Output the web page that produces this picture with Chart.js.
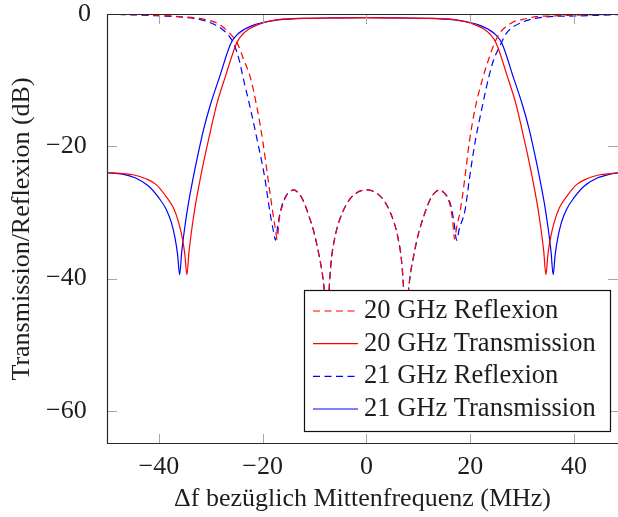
<!DOCTYPE html>
<html><head><meta charset="utf-8">
<script src="https://cdn.jsdelivr.net/npm/chart.js@4/dist/chart.umd.min.js"></script>
<style>html,body{margin:0;padding:0;background:#fff;} #c{display:block;}</style>
</head><body>
<canvas id="c" width="618" height="517"></canvas>
<script>
// ---- data ----
const seriesNames = ["20 GHz Reflexion", "20 GHz Transmission", "21 GHz Reflexion", "21 GHz Transmission"];
const xTicks = [-40, -20, 0, 20, 40];
const yTicks = [-60, -40, -20, 0];
const xTitle = "\u0394f bez\u00fcglich Mittenfrequenz (MHz)";
const yTitle = "Transmission/Reflexion (dB)";

// 20 GHz Reflexion
const r20_f  = [-50, -45, -40, -37.5, -35, -33, -31, -29, -27.8, -26.5, -24.9, -23.6, -22.4, -21.0, -19.9, -19.0, -18.1, -17.6, -17.2, -16.8, -16.1, -15.5, -14.8, -14.0, -13.2, -12.3, -11.0, -10.0, -9.0, -8.4, -8.0, -7.6, -7.2, -6.8, -6.0, -5.2, -4.0, -3.0, -2.0, -1.0, 0, 1.0, 2.0, 3.0, 4.0, 5.2, 6.0, 6.8, 7.2, 7.6, 8.0, 8.4, 9.0, 10.0, 11.0, 12.3, 13.2, 14.0, 14.8, 15.5, 16.1, 16.6, 17.0, 17.4, 18.1, 19.0, 19.8, 20.9, 22.5, 23.5, 24.7, 25.7, 28.3, 30, 32.8, 36, 39.2, 44, 48.5];
const r20_db = [-0.05, -0.1, -0.2, -0.3, -0.45, -0.6, -0.85, -1.3, -1.9, -2.8, -4.4, -7.0, -9.5, -14.5, -19.6, -24.7, -29.7, -32.2, -34.0, -31.0, -28.8, -27.6, -26.9, -26.6, -27.0, -28.0, -30.7, -33.3, -37.0, -39.8, -43.0, -50.0, -42.0, -37.5, -33.5, -31.2, -29.0, -27.8, -27.1, -26.7, -26.6, -26.7, -27.1, -27.8, -29.0, -31.2, -33.5, -37.5, -42.0, -50.0, -43.0, -39.8, -37.0, -33.3, -30.7, -28.0, -27.0, -26.6, -26.9, -27.6, -28.8, -31.0, -34.0, -32.2, -29.7, -24.7, -19.6, -14.5, -9.5, -7.0, -4.4, -2.9, -1.2, -0.85, -0.4, -0.3, -0.2, -0.1, -0.05];

// 20 GHz Transmission
const t20_f  = [-50, -47.5, -45, -42.5, -40.5, -38.6, -37.2, -36.2, -35.5, -35.0, -34.6, -34.2, -33.6, -32.9, -32.0, -31.0, -30.0, -28.9, -27.2, -25.0, -23.9, -22.5, -21.0, -19.5, -17, -12, -6, 0, 6, 12, 17, 19.5, 21.0, 22.5, 23.9, 25.0, 27.2, 28.9, 30.0, 31.0, 32.0, 32.9, 33.6, 34.2, 34.6, 35.0, 35.5, 36.2, 37.2, 38.6, 40.5, 42.5, 45, 47.5, 48.5];
const t20_db = [-24.0, -24.1, -24.3, -24.9, -25.8, -27.6, -29.3, -31.5, -33.8, -36.3, -39.4, -36.0, -32.2, -28.6, -24.8, -21.0, -17.5, -13.8, -9.5, -4.4, -3.1, -2.2, -1.65, -1.25, -0.85, -0.65, -0.6, -0.55, -0.6, -0.65, -0.85, -1.25, -1.65, -2.2, -3.1, -4.4, -9.5, -13.8, -17.5, -21.0, -24.8, -28.6, -32.2, -36.0, -39.4, -36.3, -33.8, -31.5, -29.3, -27.6, -25.8, -24.9, -24.3, -24.1, -24.0];

// 21 GHz Reflexion
const r21_f  = [-50, -45, -40.6, -36, -32.2, -29, -27.5, -26.4, -25.5, -24.5, -23.8, -22.3, -20.9, -19.6, -18.65, -18.0, -17.5, -17.0, -16.3, -15.5, -14.8, -14.0, -13.2, -12.3, -11.0, -10.0, -9.0, -8.4, -8.0, -7.6, -7.2, -6.8, -6.0, -5.2, -4.0, -3.0, -2.0, -1.0, 0, 1.0, 2.0, 3.0, 4.0, 5.2, 6.0, 6.8, 7.2, 7.6, 8.0, 8.4, 9.0, 10.0, 11.0, 12.3, 13.2, 14.0, 14.8, 15.5, 16.3, 16.9, 17.4, 17.9, 19.0, 19.9, 20.9, 22.2, 23.6, 24.5, 26.0, 27.0, 30.2, 35.4, 40, 44.4, 48.5];
const r21_db = [-0.05, -0.12, -0.25, -0.45, -0.8, -1.7, -2.5, -3.4, -4.6, -7.0, -9.5, -14.5, -19.6, -24.7, -29.7, -32.5, -34.2, -31.5, -29.0, -27.5, -26.9, -26.6, -27.0, -28.0, -30.7, -33.3, -37.0, -39.8, -43.0, -50.0, -42.0, -37.5, -33.5, -31.2, -29.0, -27.8, -27.1, -26.7, -26.6, -26.7, -27.1, -27.8, -29.0, -31.2, -33.5, -37.5, -42.0, -50.0, -43.0, -39.8, -37.0, -33.3, -30.7, -28.0, -27.0, -26.6, -26.9, -27.5, -29.0, -31.5, -34.2, -32.5, -29.7, -24.7, -19.6, -14.5, -9.5, -7.0, -4.4, -2.9, -1.2, -0.4, -0.3, -0.2, -0.1];

// 21 GHz Transmission
const t21_f  = [-50, -47, -44.5, -42, -40.0, -38.6, -37.6, -36.9, -36.4, -36.0, -35.6, -35.0, -34.3, -33.4, -32.4, -31.4, -30.1, -28.3, -26.1, -25.0, -23.5, -22.0, -20.6, -17, -12, -6, 0, 6, 12, 17, 20.6, 22.0, 23.5, 25.0, 26.1, 28.3, 30.1, 31.4, 32.4, 33.4, 34.3, 35.0, 35.6, 36.0, 36.4, 36.9, 37.6, 38.6, 40.0, 42, 44.5, 47, 48.5];
const t21_db = [-24.0, -24.2, -24.8, -26.0, -27.8, -29.5, -31.5, -33.8, -36.3, -39.4, -36.0, -32.2, -28.6, -24.8, -21.0, -17.5, -13.8, -9.5, -4.4, -3.2, -2.3, -1.75, -1.4, -0.9, -0.65, -0.6, -0.55, -0.6, -0.65, -0.9, -1.4, -1.75, -2.3, -3.2, -4.4, -9.5, -13.8, -17.5, -21.0, -24.8, -28.6, -32.2, -36.0, -39.4, -36.3, -33.8, -31.5, -29.5, -27.8, -26.0, -24.8, -24.2, -24.0];

// ---- chart ----
const FONT = "'Liberation Serif', 'Times New Roman', 'DejaVu Serif', serif";
const TXT = '#1e1e1e';
const RED = '#ff0000', BLUE = '#0000ff';
const DASH = [7, 4.5];
const pts = (xs, ys) => xs.map((x, i) => ({x: x, y: ys[i]}));
const fmt = v => (v < 0 ? '\u2212' + Math.abs(v) : String(v));

const datasets = [
  {label: seriesNames[0], data: pts(r20_f, r20_db), borderColor: RED, borderDash: DASH},
  {label: seriesNames[1], data: pts(t20_f, t20_db), borderColor: RED},
  {label: seriesNames[2], data: pts(r21_f, r21_db), borderColor: BLUE, borderDash: DASH},
  {label: seriesNames[3], data: pts(t21_f, t21_db), borderColor: BLUE}
];

const framePlugin = {
  id: 'frame',
  afterDatasetsDraw(chart) {
    const {ctx, chartArea: a, scales: {x, y}} = chart;
    ctx.save();
    const seg = (x1, y1, x2, y2) => { ctx.beginPath(); ctx.moveTo(x1, y1); ctx.lineTo(x2, y2); ctx.stroke(); };
    // inward tick marks on all four sides
    ctx.strokeStyle = '#a6a6a6'; ctx.lineWidth = 1;
    xTicks.forEach(v => {
      const px = Math.round(x.getPixelForValue(v)) + 0.5;
      seg(px, a.bottom, px, a.bottom - 10);
      seg(px, a.top, px, a.top + 10);
    });
    yTicks.forEach(v => {
      const py = Math.round(y.getPixelForValue(v)) + 0.5;
      seg(a.left, py, a.left + 10, py);
      seg(a.right, py, a.right - 10, py);
    });
    // frame
    ctx.strokeStyle = '#2a2a2a'; ctx.lineWidth = 1.2;
    ctx.beginPath();
    ctx.moveTo(a.right + 3, a.top + 0.5);
    ctx.lineTo(a.left + 0.5, a.top + 0.5);
    ctx.lineTo(a.left + 0.5, a.bottom - 0.5);
    ctx.lineTo(a.right + 3, a.bottom - 0.5);
    ctx.stroke();
    // legend box
    ctx.font = '26.5px ' + FONT;
    let maxW = 0;
    datasets.forEach(d => { maxW = Math.max(maxW, ctx.measureText(d.label).width); });
    const w = Math.round(60 + maxW + 14), h = 141;
    const bx = Math.round(a.right - 8 - w), by = Math.round(a.bottom - 13 - h);
    ctx.fillStyle = '#fff';
    ctx.fillRect(bx, by, w, h);
    ctx.strokeStyle = '#111'; ctx.lineWidth = 1.2;
    ctx.strokeRect(bx + 0.5, by + 0.5, w, h);
    ctx.textBaseline = 'middle'; ctx.textAlign = 'left';
    datasets.forEach((d, i) => {
      const ry = by + 21 + i * 32.67;
      ctx.strokeStyle = d.borderColor; ctx.lineWidth = 1.2;
      ctx.setLineDash(d.borderDash || []);
      seg(bx + 9, ry, bx + 54, ry);
      ctx.setLineDash([]);
      ctx.fillStyle = TXT;
      ctx.fillText(d.label, bx + 60, ry);
    });
    ctx.restore();
  }
};

const noPad = s => { s.paddingTop = 0; s.paddingBottom = 0; s.paddingLeft = 0; s.paddingRight = 0; };

new Chart(document.getElementById('c').getContext('2d'), {
  type: 'line',
  data: {datasets: datasets},
  options: {
    responsive: false,
    animation: false,
    devicePixelRatio: 1,
    layout: {padding: {top: 14, left: 0, right: 0, bottom: 0}},
    plugins: {legend: {display: false}, tooltip: {enabled: false}},
    elements: {
      point: {radius: 0},
      line: {borderWidth: 1.2, cubicInterpolationMode: 'monotone', fill: false}
    },
    scales: {
      x: {
        type: 'linear', min: -50, max: 48.5,
        afterBuildTicks: s => { s.ticks = xTicks.map(v => ({value: v})); },
        afterFit: s => { s.height = 73; noPad(s); },
        grid: {display: false}, border: {display: false},
        ticks: {padding: 0, color: TXT, font: {family: FONT, size: 26}, maxRotation: 0, autoSkip: false, callback: v => fmt(v)},
        title: {display: true, text: xTitle, color: TXT, font: {family: FONT, size: 26}, padding: {top: 0, bottom: 2}}
      },
      y: {
        type: 'linear', min: -65, max: 0,
        afterBuildTicks: s => { s.ticks = yTicks.map(v => ({value: v})); },
        afterFit: s => { s.width = 107; noPad(s); },
        grid: {display: false}, border: {display: false},
        ticks: {padding: 8, color: TXT, font: {family: FONT, size: 26}, autoSkip: false, callback: v => (v < 0 ? fmt(v) + '\u2006' : fmt(v))},
        title: {display: true, text: yTitle, color: TXT, font: {family: FONT, size: 26}, padding: {top: 7, bottom: 0}}
      }
    }
  },
  plugins: [framePlugin]
});
</script>
</body></html>
